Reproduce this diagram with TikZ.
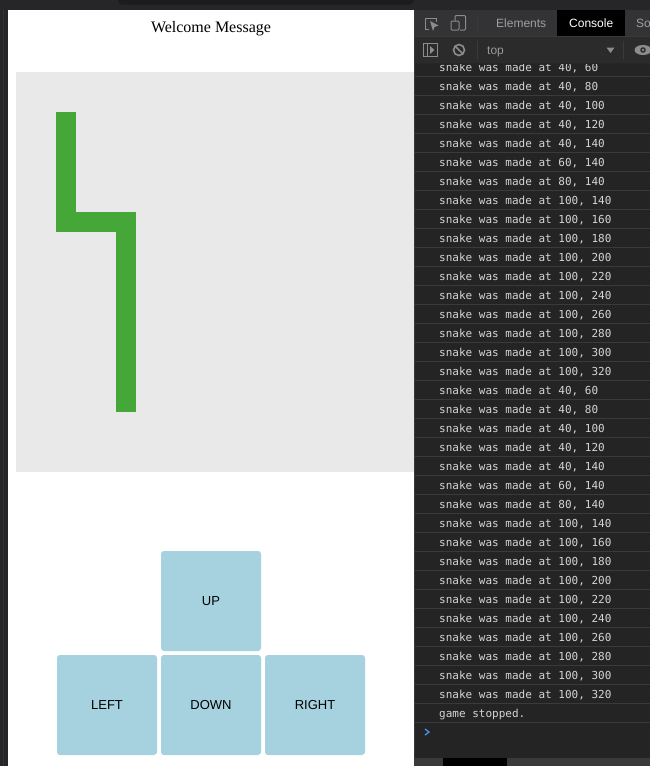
\documentclass[tikz,border=0pt]{standalone}
\usepackage{fontspec}
\setmainfont{Liberation Serif}
\newfontfamily\uifont{Liberation Sans}
\newfontfamily\logfont{DejaVu Sans Mono}
\usetikzlibrary{positioning}

\definecolor{pagedark}{RGB}{38,38,41}
\definecolor{tabdark}{RGB}{28,28,30}
\definecolor{canvasgray}{RGB}{233,233,233}
\definecolor{snakegreen}{RGB}{68,167,56}
\definecolor{btnblue}{RGB}{166,210,224}
\definecolor{panelbg}{RGB}{36,36,36}
\definecolor{rowline}{RGB}{58,58,58}
\definecolor{logtext}{RGB}{213,213,213}
\definecolor{tabbar}{RGB}{51,51,53}
\definecolor{toolbar}{RGB}{43,43,43}
\definecolor{icongray}{RGB}{140,140,140}
\definecolor{promptblue}{RGB}{74,144,240}

\tikzset{
  arrowbtn/.style={fill=btnblue, rounded corners=3pt, minimum width=100pt,
    minimum height=100pt, inner sep=0pt, outer sep=0pt,
    font=\uifont\fontsize{13}{15}\selectfont},
  logtxt/.style={anchor=base west, inner sep=0pt, text=logtext,
    font=\logfont\fontsize{11}{13}\selectfont},
  tabtxt/.style={anchor=base west, inner sep=0pt,
    font=\uifont\fontsize{12}{14}\selectfont},
  logline/.style={draw=rowline, line width=0.8pt},
  toolicon/.style={draw=icongray, line width=1.2pt},
}

\begin{document}
\begin{tikzpicture}[x=1pt,y=-1pt]
\useasboundingbox (0,0) rectangle (650,766);

% Browser frame
\fill[pagedark] (0,0) rectangle (650,10);
\fill[tabdark, rounded corners=4pt] (118,-6) rectangle (414,4.5);
\fill[pagedark] (0,0) rectangle (8,766);
\draw[gray!40!black, line width=1pt] (3.5,10) -- (3.5,766);
\fill[white] (8,10) rectangle (414,766);

% Page
\node[anchor=base, font=\fontsize{16}{19}\selectfont] (title) at (211,32) {Welcome Message};
\fill[canvasgray] (16,72) rectangle (414,472);

% Snake
\fill[snakegreen] (56,112) rectangle (76,232);
\fill[snakegreen] (56,212) rectangle (136,232);
\fill[snakegreen] (116,212) rectangle (136,412);

% Buttons
\node[arrowbtn] (up) at (211,601) {UP};
\node[arrowbtn, below=4pt of up] (down) {DOWN};
\node[arrowbtn, left=4pt of down] (left) {LEFT};
\node[arrowbtn, right=4pt of down] (right) {RIGHT};

% Console panel
\fill[panelbg] (414,10) rectangle (650,766);
\draw[gray!45!black, line width=1pt] (414.5,10) -- (414.5,766);

% Log rows
\foreach \k in {0,1}
  \foreach \c [count=\i from 0] in {{40, 60},{40, 80},{40, 100},{40, 120},{40, 140},
      {60, 140},{80, 140},{100, 140},{100, 160},{100, 180},{100, 200},{100, 220},
      {100, 240},{100, 260},{100, 280},{100, 300},{100, 320}}
    \node[logtxt] (log-\k-\i) at (439,{71+323*\k+19*\i}) {snake was made at \c};
\node[logtxt] (stopped) at (439,717) {game stopped.};
\foreach \i in {0,...,34}
  \draw[logline] (415,{76.5+19*\i}) -- (650,{76.5+19*\i});

% Prompt
\draw[promptblue, line width=1.3pt] (425,729) -- (429,732) -- (425,735);

% Bottom bar
\fill[rowline] (415,758) rectangle (650,766);
\fill[black] (443,758) rectangle (507,766);

% Tab row
\fill[tabbar] (415,10) rectangle (650,36);
\fill[black] (557,10) rectangle (625,36);
\draw[rowline] (415,36) -- (650,36);
\node[tabtxt, text=gray!75] (elements) at (496,27) {Elements};
\node[tabtxt, text=white] (console) at (569,27) {Console};
\node[tabtxt, text=gray!75] (sources) at (636,27) {So};
\draw[toolicon, line width=1pt] (436,22) -- (436,18) -- (425,18) -- (425,29) -- (429,29);
\fill[icongray] (430,21) -- (438.5,25.5) -- (434.5,27) -- (433,31) -- cycle;
\draw[toolicon, line width=1pt, rounded corners=1pt] (455,21) -- (455,15.5) -- (465.5,15.5) -- (465.5,30) -- (460,30);
\draw[toolicon, line width=1pt, rounded corners=1pt] (451,21) rectangle (459,30);
\draw[rowline, line width=1pt] (477.5,15) -- (477.5,31);

% Toolbar row
\fill[toolbar] (415,36.5) rectangle (650,63);
\draw[gray!30!black, line width=1pt] (415,63) -- (650,63);
\draw[toolicon, line width=1pt] (423.5,43.5) rectangle (437,56.5);
\draw[toolicon, line width=1pt] (427.5,43.5) -- (427.5,56.5);
\fill[icongray] (430,46) -- (434.5,50) -- (430,54) -- cycle;
\draw[toolicon, line width=1.6pt] (459,50) circle (5.5);
\draw[toolicon, line width=1.6pt] (455.1,46.1) -- (462.9,53.9);
\draw[rowline, line width=1pt] (477.5,41) -- (477.5,59);
\node[tabtxt, text=gray!80] (context) at (487,54) {top};
\fill[icongray] (606.5,47.5) -- (614.5,47.5) -- (610.5,53) -- cycle;
\draw[rowline, line width=1pt] (623.5,41) -- (623.5,59);
\fill[icongray] (643,50) ellipse (8.5 and 5);
\fill[toolbar] (643,50) circle (2.8);
\fill[icongray] (643,50) circle (1.4);
\end{tikzpicture}
\end{document}
